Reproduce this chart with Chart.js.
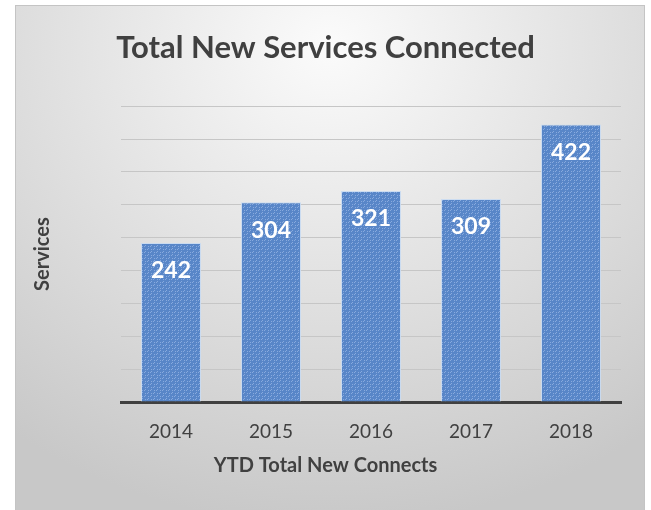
<!DOCTYPE html>
<html>
<head>
<meta charset="utf-8">
<script src="https://cdn.jsdelivr.net/npm/chart.js@4/dist/chart.umd.min.js"></script>
<style>
  body { margin: 0; background: #fff; }
  #box {
    position: absolute; left: 15px; top: 5px; width: 628px; height: 505px;
    border: 1px solid #c4c4c4; border-bottom: none;
    background: radial-gradient(ellipse 85% 95% at 50% 8%, #fbfbfb 0%, #e4e4e4 45%, #c8c8c8 100%);
  }
</style>
</head>
<body>
<div id="box"><canvas id="chart" width="628" height="505"></canvas></div>
<script>
// Yearly totals
const years = ['2014', '2015', '2016', '2017', '2018'];
const services = [242, 304, 321, 309, 422];

const yMax = 450;
const yStep = 50;

// little dotted fill for the bars
function barPattern() {
  const c = document.createElement('canvas');
  c.width = 6; c.height = 6;
  const g = c.getContext('2d');
  g.fillStyle = '#5886c8';
  g.fillRect(0, 0, 6, 6);
  g.fillStyle = '#88aade';
  g.fillRect(0, 0, 1, 1);
  g.fillRect(3, 3, 1, 1);
  g.fillRect(2, 0, 1, 1);
  g.fillRect(0, 2, 1, 1);
  g.fillRect(5, 3, 1, 1);
  g.fillRect(3, 5, 1, 1);
  return g.createPattern(c, 'repeat');
}

// white numbers inside the top of each bar
const valueLabels = {
  id: 'valueLabels',
  afterDatasetsDraw(chart) {
    const ctx = chart.ctx;
    const meta = chart.getDatasetMeta(0);
    ctx.save();
    ctx.fillStyle = '#ffffff';
    ctx.font = 'bold 23px Lato';
    ctx.textAlign = 'center';
    ctx.textBaseline = 'middle';
    meta.data.forEach(function (bar, i) {
      ctx.fillText(String(services[i]), bar.x, bar.y + 28);
    });
    ctx.restore();
  }
};

const ctx = document.getElementById('chart');

new Chart(ctx, {
  type: 'bar',
  data: {
    labels: years,
    datasets: [{
      data: services,
      backgroundColor: barPattern(),
      borderColor: 'rgba(200,218,242,0.9)',
      borderWidth: 1,
      barPercentage: 0.6,
      categoryPercentage: 1.0
    }]
  },
  options: {
    responsive: false,
    animation: false,
    layout: { padding: { left: 0, right: 9, top: 0, bottom: 0 } },
    plugins: {
      legend: { display: false },
      tooltip: { enabled: false },
      title: {
        display: true,
        text: 'Total New Services Connected',
        color: '#404040',
        font: { family: 'Lato', size: 31, weight: 'bold' },
        padding: { top: 23, bottom: 40 }
      },
      // x axis caption, centred on the whole box rather than the plot
      subtitle: {
        display: true,
        position: 'bottom',
        text: 'YTD Total New Connects',
        color: '#404040',
        font: { family: 'Lato', size: 20, weight: 'bold' },
        padding: { top: 4, bottom: 33 }
      }
    },
    scales: {
      x: {
        grid: { display: false },
        border: { display: true, color: '#404040', width: 3 },
        ticks: { color: '#404040', font: { family: 'Lato', size: 19 }, padding: 10 },
        afterFit(s) { s.height = 48; }
      },
      y: {
        min: 0,
        max: yMax,
        ticks: { display: false, stepSize: yStep },
        grid: { color: '#c6c6c6', lineWidth: 1, drawTicks: false },
        border: { display: false },
        title: {
          display: true,
          text: 'Services',
          color: '#404040',
          font: { family: 'Lato', size: 20, weight: 'bold' },
          padding: { top: 15 }
        },
        afterFit(s) { s.width = 105; }
      },
      // empty strip on the right so the plot sits left of the title centre
      yRight: {
        position: 'right',
        ticks: { display: false },
        grid: { display: false },
        border: { display: false },
        afterFit(s) { s.width = 14; }
      }
    }
  },
  plugins: [valueLabels]
});
</script>
</body>
</html>
